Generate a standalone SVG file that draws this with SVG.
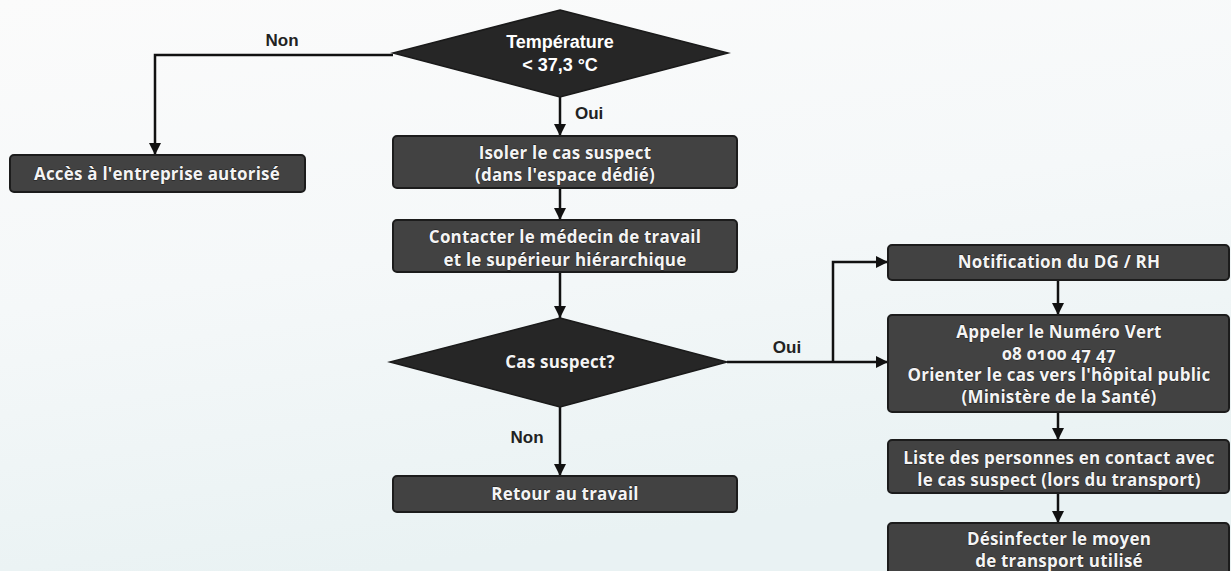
<svg xmlns="http://www.w3.org/2000/svg" width="1231" height="571" viewBox="0 0 1231 571">
  <defs>
    <linearGradient id="bg" x1="0" y1="0" x2="0.3" y2="1">
      <stop offset="0" stop-color="#fbfbfb"/>
      <stop offset="0.5" stop-color="#f5f8f9"/>
      <stop offset="1" stop-color="#e9f2f3"/>
    </linearGradient>
    <marker id="arr" markerUnits="userSpaceOnUse" markerWidth="12" markerHeight="12" refX="12" refY="6" orient="auto">
      <path d="M0,0 L12,6 L0,12 z" fill="#111"/>
    </marker>
    <style>
      .box { fill: #424242; stroke: #1c1c1c; stroke-width: 2; }
      .dia { fill: #262626; stroke: #1a1a1a; stroke-width: 1.5; }
      .bt { font-family: "Open Sans", Lato, sans-serif; font-weight: bold; font-size: 17px; letter-spacing: 0.2px; fill: #f4f4f4; text-anchor: middle; stroke: #1a1a1a; stroke-width: 0.8; paint-order: stroke; }
      .dt { font-family: "Liberation Sans", Arial, sans-serif; font-weight: bold; font-size: 18px; fill: #ffffff; text-anchor: middle; }
      .lbl { font-family: "Liberation Sans", Arial, sans-serif; font-weight: bold; font-size: 17px; fill: #222222; }
      .con { fill: none; stroke: #111; stroke-width: 2.5; }
    </style>
  </defs>
  <rect x="0" y="0" width="1231" height="571" fill="url(#bg)"/>

  <g id="connectors">
    <path class="con" d="M393,55 H155 V155" marker-end="url(#arr)"/>
    <path class="con" d="M560,97 V136" marker-end="url(#arr)"/>
    <path class="con" d="M560,188 V220" marker-end="url(#arr)"/>
    <path class="con" d="M560,272 V318" marker-end="url(#arr)"/>
    <path class="con" d="M560,407 V476" marker-end="url(#arr)"/>
    <path class="con" d="M727,362 H888" marker-end="url(#arr)"/>
    <path class="con" d="M833,362 V262 H888" marker-end="url(#arr)"/>
    <path class="con" d="M1058,280 V315" marker-end="url(#arr)"/>
    <path class="con" d="M1058,412 V440" marker-end="url(#arr)"/>
    <path class="con" d="M1058,493 V523" marker-end="url(#arr)"/>
    <text class="lbl" x="282" y="46" text-anchor="middle">Non</text>
    <text class="lbl" x="575" y="119">Oui</text>
    <text class="lbl" x="527" y="443" text-anchor="middle">Non</text>
    <text class="lbl" x="787" y="353" text-anchor="middle">Oui</text>
  </g>

  <g id="temperature">
    <polygon class="dia" points="560,10 728,53 560,97 393,53"/>
    <text class="dt" x="560" y="48">Température</text>
    <text class="dt" x="560" y="71">&lt; 37,3 °C</text>
  </g>

  <g id="acces">
    <rect class="box" x="10" y="155" width="295" height="37" rx="4"/>
    <text class="bt" x="157" y="180">Accès à l'entreprise autorisé</text>
  </g>

  <g id="isoler">
    <rect class="box" x="393" y="136" width="344" height="52" rx="4"/>
    <text class="bt" x="565" y="159">Isoler le cas suspect</text>
    <text class="bt" x="565" y="181">(dans l'espace dédié)</text>
  </g>

  <g id="contacter">
    <rect class="box" x="393" y="220" width="344" height="52" rx="4"/>
    <text class="bt" x="565" y="243">Contacter le médecin de travail</text>
    <text class="bt" x="565" y="266">et le supérieur hiérarchique</text>
  </g>

  <g id="cas-suspect">
    <polygon class="dia" points="560,318 727,362 560,407 390,362"/>
    <text class="bt" x="560" y="368">Cas suspect?</text>
  </g>

  <g id="retour">
    <rect class="box" x="393" y="476" width="344" height="36" rx="4"/>
    <text class="bt" x="565" y="500">Retour au travail</text>
  </g>

  <g id="notification">
    <rect class="box" x="888" y="245" width="341" height="35" rx="4"/>
    <text class="bt" x="1059" y="268">Notification du DG / RH</text>
  </g>

  <g id="appeler">
    <rect class="box" x="888" y="315" width="341" height="97" rx="4"/>
    <text class="bt" x="1059" y="338">Appeler le Numéro Vert</text>
    <text class="bt" x="1059" y="360" style="font-variant-numeric: oldstyle-nums;">08 0100 47 47</text>
    <text class="bt" x="1059" y="381">Orienter le cas vers l'hôpital public</text>
    <text class="bt" x="1059" y="403">(Ministère de la Santé)</text>
  </g>

  <g id="liste">
    <rect class="box" x="888" y="440" width="341" height="53" rx="4"/>
    <text class="bt" x="1059" y="464">Liste des personnes en contact avec</text>
    <text class="bt" x="1059" y="486">le cas suspect (lors du transport)</text>
  </g>

  <g id="desinfecter">
    <rect class="box" x="888" y="523" width="341" height="60" rx="4"/>
    <text class="bt" x="1059" y="545">Désinfecter le moyen</text>
    <text class="bt" x="1059" y="567">de transport utilisé</text>
  </g>
</svg>
